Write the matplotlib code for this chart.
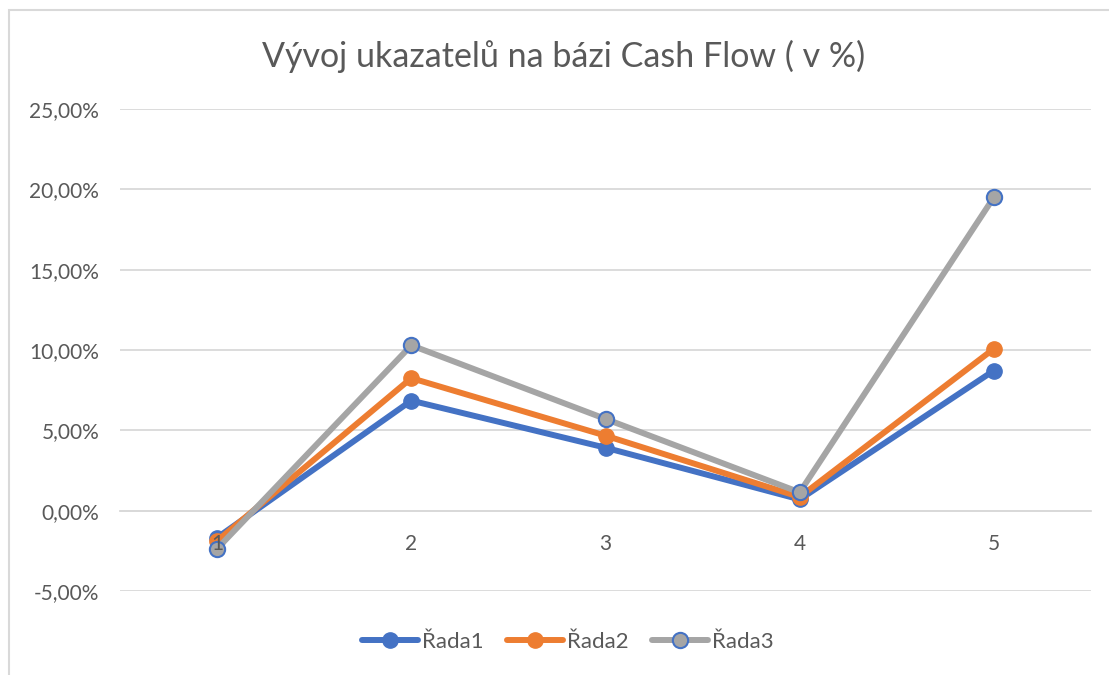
import matplotlib
matplotlib.use("Agg")
import matplotlib.pyplot as plt
from matplotlib.ticker import FuncFormatter, MultipleLocator
from matplotlib.patches import Rectangle

plt.rcParams["font.family"] = ["Lato", "DejaVu Sans"]

categories = [1, 2, 3, 4, 5]
rada1 = [-1.68, 6.85, 3.92, 0.70, 8.72]
rada2 = [-1.88, 8.25, 4.67, 0.85, 10.08]
rada3 = [-2.37, 10.29, 5.71, 1.14, 19.51]
series_names = ["Řada1", "Řada2", "Řada3"]

blue = "#4472C4"
orange = "#ED7D31"
gray = "#A5A5A5"
text_col = "#595959"
grid_col = "#D9D9D9"

W, H = 1109, 675
fig = plt.figure(figsize=(W / 100, H / 100), dpi=100)
ax = fig.add_axes([120 / W, 1 - 591 / H, (1091 - 120) / W, (591 - 109) / H])

# outer chart border (right/bottom fall outside the image)
fig.patches.append(Rectangle((9 / W, -0.1), 1.2, 1 - 10 / H + 0.1,
                             transform=fig.transFigure, fill=False,
                             edgecolor=grid_col, linewidth=1.5))

ax.plot(categories, rada1, color=blue, lw=4.3, marker="o", ms=11,
        mfc=blue, mec=blue, label=series_names[0], solid_capstyle="round", zorder=3)
ax.plot(categories, rada2, color=orange, lw=4.3, marker="o", ms=11,
        mfc=orange, mec=orange, label=series_names[1], solid_capstyle="round", zorder=4)
ax.plot(categories, rada3, color=gray, lw=4.3, marker="o", ms=11,
        mfc=gray, mec=blue, mew=1.5, label=series_names[2], solid_capstyle="round", zorder=5)

ax.set_xlim(0.5, 5.5)
ax.set_ylim(-5, 25)
ax.yaxis.set_major_locator(MultipleLocator(5))
ax.yaxis.set_major_formatter(FuncFormatter(lambda v, p: f"{v:.2f}%".replace(".", ",")))
ax.set_xticks(categories)
ax.set_xticklabels([str(c) for c in categories])

ax.grid(axis="y", color=grid_col, lw=1.3)
ax.set_axisbelow(True)
ax.xaxis.set_zorder(6)  # category labels sit on top of the lines, like "1"
for s in ["top", "right", "left"]:
    ax.spines[s].set_visible(False)
ax.spines["bottom"].set_position(("data", 0))
ax.spines["bottom"].set_color(grid_col)
ax.spines["bottom"].set_linewidth(1.3)
ax.spines["bottom"].set_zorder(1)
ax.tick_params(axis="both", length=0, labelsize=15, labelcolor=text_col)
ax.tick_params(axis="y", pad=15)
ax.tick_params(axis="x", pad=17)

fig.text(564 / W, 1 - 56 / H, "Vývoj ukazatelů na bázi Cash Flow ( v %)",
         ha="center", va="center", fontsize=24.5, color=text_col)

fig.legend(loc="center", bbox_to_anchor=(568 / W, 1 - 642 / H), ncol=3,
           frameon=False, fontsize=16, labelcolor=text_col, handlelength=2.5,
           handletextpad=0.2, columnspacing=1.05, markerscale=1.0)

fig.savefig("out.png", dpi=100)
